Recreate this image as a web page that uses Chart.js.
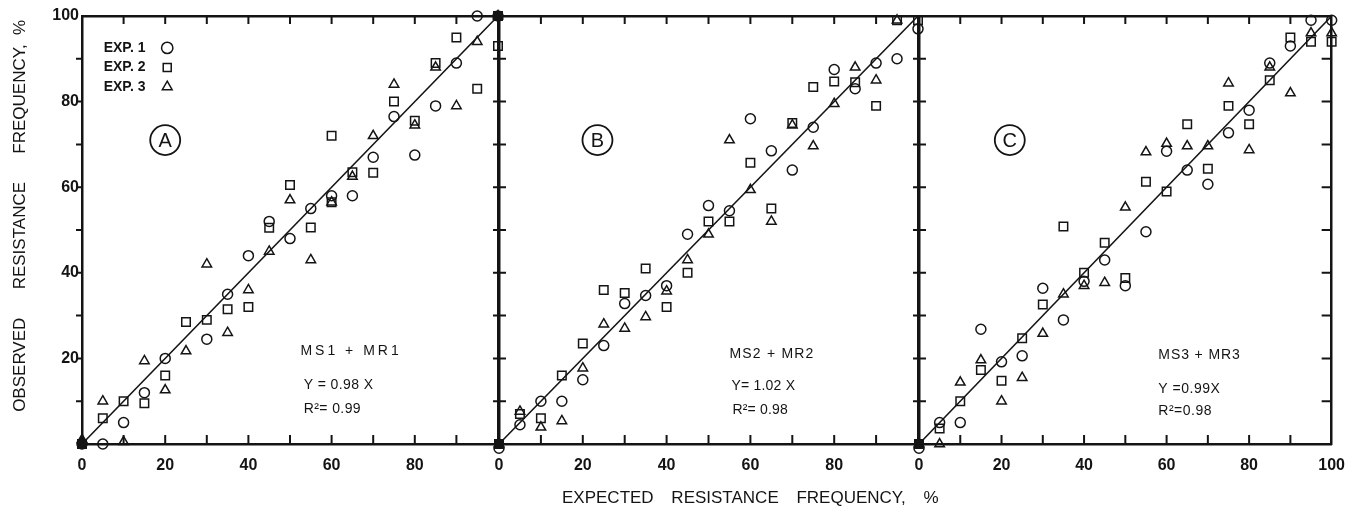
<!DOCTYPE html>
<html>
<head>
<meta charset="utf-8">
<title>Observed vs expected resistance frequency</title>
<script src="https://cdn.jsdelivr.net/npm/chart.js@4.4.0/dist/chart.umd.min.js"></script>
<style>
    html, body { margin: 0; padding: 0; background: #fff; }
    #wrap { position: relative; width: 1357px; height: 510px; overflow: hidden; }
    #wrap canvas { position: absolute; left: 0; top: 0; }
    #xtitle {
        position: absolute; left: 562px; top: 488px;
        font: 17px 'Liberation Sans', Arial, sans-serif;
        color: #141414; word-spacing: 13px; white-space: nowrap;
    }
</style>
</head>
<body>
<div id="wrap">
    <canvas id="panelA" width="1357" height="510"></canvas>
    <canvas id="panelB" width="1357" height="510"></canvas>
    <canvas id="panelC" width="1357" height="510"></canvas>
    <div id="xtitle">EXPECTED RESISTANCE FREQUENCY, %</div>
</div>
<script>
(function() {
    'use strict';

    var INK = '#141414';
    var FONT = "'Liberation Sans', Arial, sans-serif";

    // axis values
    var tickMarks = [10, 20, 30, 40, 50, 60, 70, 80, 90];
    var xLabelsAB = [0, 20, 40, 60, 80];
    var xLabelsC = [0, 20, 40, 60, 80, 100];
    var yLabels = [20, 40, 60, 80, 100];
    var seriesNames = ['EXP. 1', 'EXP. 2', 'EXP. 3'];
    var fitLine = [[0, 0], [100, 100]];

    // panel A : MS1 + MR1  [expected, observed]
    var exp1A = [[0, 0], [5, 0], [10, 5], [15, 12], [20, 20], [30, 24.5], [35, 35], [40, 44], [45, 52],
        [50, 48], [55, 55], [60, 58], [65, 58], [70, 67], [75, 76.5], [80, 67.5], [85, 79], [90, 89],
        [95, 100], [100, 100]];
    var exp2A = [[0, 0], [5, 6], [10, 10], [15, 9.5], [20, 16], [25, 28.5], [30, 29], [35, 31.5], [40, 32],
        [45, 50.5], [50, 60.5], [55, 50.6], [60, 56.5], [60, 72], [65, 63.5], [70, 63.4], [75, 80],
        [80, 75.5], [85, 89], [90, 95], [95, 83], [100, 93], [100, 100]];
    var exp3A = [[0, 1], [5, 10], [10, 0.5], [15, 19.4], [20, 12.6], [25, 21.7], [30, 42], [35, 26], [40, 36],
        [45, 45], [50, 57], [55, 43], [60, 56.5], [65, 62.5], [70, 72], [75, 84], [80, 74.5], [85, 88],
        [90, 79], [95, 94], [100, 100]];

    // panel B : MS2 + MR2
    var exp1B = [[0, -1], [5, 4.5], [10, 10], [15, 10], [20, 15], [25, 23], [30, 32.8], [35, 34.7], [40, 37],
        [45, 49], [50, 55.7], [55, 54.5], [60, 76], [65, 68.5], [70, 64], [75, 74], [80, 87.5], [85, 83],
        [90, 89], [95, 90], [100, 97]];
    var exp2B = [[0, 0], [5, 7], [10, 6], [15, 16], [20, 23.5], [25, 36], [30, 35.3], [35, 41], [40, 32],
        [45, 40], [50, 52], [55, 52], [60, 65.7], [65, 55], [70, 75], [75, 83.4], [80, 84.7], [85, 84.5],
        [90, 79], [95, 99], [100, 99]];
    var exp3B = [[0, 0], [5, 7.6], [10, 3.9], [15, 5.4], [20, 17.7], [25, 28], [30, 27], [35, 29.7], [40, 35.7],
        [45, 43], [50, 49], [55, 71], [60, 59.4], [65, 52], [70, 74.5], [75, 69.6], [80, 79.5], [85, 88],
        [90, 85], [95, 99]];

    // panel C : MS3 + MR3
    var exp1C = [[0, -1], [5, 5], [10, 5], [15, 26.8], [20, 19.2], [25, 20.6], [30, 36.4], [35, 29], [40, 38],
        [45, 43], [50, 37], [55, 49.6], [60, 68.4], [65, 64], [70, 60.7], [75, 72.7], [80, 78], [85, 89],
        [90, 93], [95, 99], [100, 99]];
    var exp2C = [[0, 0], [5, 3.6], [10, 10], [15, 17.3], [20, 14.8], [25, 24.7], [30, 32.6], [35, 50.8], [40, 40],
        [45, 47], [50, 38.8], [55, 61.3], [60, 59], [65, 74.7], [70, 64.3], [75, 79], [80, 74.7], [85, 85],
        [90, 95], [95, 94], [100, 94]];
    var exp3C = [[0, 0], [5, 0], [10, 14.4], [15, 19.6], [20, 10], [25, 15.5], [30, 25.8], [35, 35], [40, 37],
        [45, 37.7], [50, 55.3], [55, 68.2], [60, 70.2], [65, 69.6], [70, 69.6], [75, 84.3], [80, 68.7],
        [85, 88], [90, 82], [95, 96], [100, 96]];

    var markerStyles = [
        { pointStyle: 'circle', radius: 5 },
        { pointStyle: 'rect', radius: 6 },
        { pointStyle: 'triangle', radius: 5.5 }
    ];

    function toPoints(arr) {
        return arr.map(function(p) { return { x: p[0], y: p[1] }; });
    }

    // overlapping marks at the corners print as a solid blot
    function markerFill(ctx) {
        var r = ctx.raw;
        if (r && ((r.x === 0 && r.y >= 0) || (r.x === 100 && r.y === 100))) return INK;
        return 'rgba(0,0,0,0)';
    }

    // ticks, circled panel letter, regression text
    var panelDecor = {
        id: 'panelDecor',
        afterDatasetsDraw: function(chart, args, opts) {
            var ctx = chart.ctx;
            var xs = chart.scales.x, ys = chart.scales.y;
            var a = chart.chartArea;

            ctx.save();
            ctx.strokeStyle = INK;
            ctx.lineWidth = 2;
            ctx.beginPath();
            tickMarks.forEach(function(v) {
                var px = xs.getPixelForValue(v);
                var py = ys.getPixelForValue(v);
                ctx.moveTo(px, a.bottom); ctx.lineTo(px, a.bottom - 9);
                ctx.moveTo(px, a.top); ctx.lineTo(px, a.top + 8);
                if (opts.left === 'out') { ctx.moveTo(a.left, py); ctx.lineTo(a.left - 6, py); }
                if (opts.left === 'cross') { ctx.moveTo(a.left - 6, py); ctx.lineTo(a.left + 7, py); }
                if (opts.right === 'in') { ctx.moveTo(a.right, py); ctx.lineTo(a.right - 10, py); }
            });
            ctx.stroke();

            // circled letter
            var cx = xs.getPixelForValue(opts.letterAt[0]);
            var cy = ys.getPixelForValue(opts.letterAt[1]);
            ctx.lineWidth = 1.8;
            ctx.beginPath();
            ctx.arc(cx, cy, 15, 0, Math.PI * 2);
            ctx.stroke();
            ctx.fillStyle = INK;
            ctx.font = '20px ' + FONT;
            ctx.textAlign = 'center';
            ctx.textBaseline = 'middle';
            ctx.fillText(opts.letter, cx, cy + 1);

            // model + regression
            ctx.textAlign = 'left';
            ctx.font = '14px ' + FONT;
            opts.lines.forEach(function(ln) {
                ctx.letterSpacing = (ln.spacing || 0) + 'px';
                ctx.fillText(ln.text, xs.getPixelForValue(ln.at[0]), ys.getPixelForValue(ln.at[1]));
            });
            ctx.letterSpacing = '0px';
            ctx.restore();
        }
    };

    function makePanel(id, p) {
        var datasets = p.series.map(function(s, i) {
            return {
                label: seriesNames[i],
                data: toPoints(s),
                pointStyle: markerStyles[i].pointStyle,
                pointRadius: markerStyles[i].radius,
                pointBorderWidth: 1.5,
                pointBackgroundColor: markerFill,
                borderColor: INK,
                backgroundColor: 'rgba(0,0,0,0)',
                borderWidth: 1.5,
                clip: false
            };
        });
        datasets.push({
            label: 'fit',
            data: toPoints(fitLine),
            showLine: true,
            pointRadius: 0,
            borderColor: INK,
            borderWidth: 1.6,
            clip: false
        });

        var border = { display: true, width: 2.5, color: INK };
        var noGrid = { display: false, drawTicks: false };

        return new Chart(document.getElementById(id), {
            type: 'scatter',
            data: { datasets: datasets },
            plugins: [panelDecor],
            options: {
                responsive: false,
                animation: false,
                events: [],
                layout: { padding: 0 },
                scales: {
                    x: {
                        type: 'linear', position: 'bottom', min: 0, max: 100,
                        grid: noGrid, border: border,
                        ticks: {
                            stepSize: 20, autoSkip: false, maxRotation: 0, padding: 12,
                            color: INK, font: { family: FONT, size: 16, weight: 'bold' },
                            callback: function(v) { return p.xLabels.indexOf(v) !== -1 ? String(v) : ''; }
                        },
                        afterFit: function(s) { s.height = 510 - 444; }
                    },
                    xTop: {
                        type: 'linear', position: 'top', min: 0, max: 100,
                        grid: noGrid, border: border, ticks: { display: false },
                        afterFit: function(s) { s.height = 16; }
                    },
                    y: {
                        type: 'linear', position: 'left', min: 0, max: 100,
                        grid: noGrid, border: border,
                        ticks: {
                            display: p.showY, stepSize: 20, padding: 3,
                            color: INK, font: { family: FONT, size: 16, weight: 'bold' },
                            callback: function(v) { return yLabels.indexOf(v) !== -1 ? String(v) : ''; }
                        },
                        title: {
                            display: p.showY,
                            text: '      OBSERVED      RESISTANCE      FREQUENCY,  %',
                            color: INK, font: { family: FONT, size: 17 },
                            padding: { top: 10, bottom: 0 }
                        },
                        afterFit: function(s) { s.width = p.left; }
                    },
                    yRight: {
                        type: 'linear', position: 'right', min: 0, max: 100,
                        grid: noGrid, border: border, ticks: { display: false },
                        afterFit: function(s) { s.width = 1357 - p.right; }
                    }
                },
                plugins: {
                    tooltip: { enabled: false },
                    legend: p.legend ? {
                        display: true,
                        position: 'chartArea',
                        align: 'start',
                        rtl: true,
                        title: { display: true, text: ' ', padding: 10.5, font: { size: 12 } },
                        labels: {
                            usePointStyle: true, boxWidth: 14, boxHeight: 8, padding: 5.5,
                            color: INK, font: { family: FONT, size: 14, weight: 'bold' },
                            generateLabels: function(chart) {
                                var items = Chart.defaults.plugins.legend.labels.generateLabels(chart);
                                return items.slice(0, 3).map(function(it) {
                                    it.text = '   ' + it.text + '  ';
                                    it.fillStyle = 'rgba(0,0,0,0)';
                                    return it;
                                });
                            }
                        }
                    } : { display: false },
                    panelDecor: p.decor
                }
            }
        });
    }

    makePanel('panelA', {
        series: [exp1A, exp2A, exp3A], left: 82, right: 498,
        xLabels: xLabelsAB, showY: true, legend: true,
        decor: {
            left: 'out', right: 'none', letter: 'A', letterAt: [20, 71],
            lines: [
                { text: 'MS1 + MR1', at: [52.5, 21.6], spacing: 3 },
                { text: 'Y = 0.98 X', at: [53.3, 13.7], spacing: 0.4 },
                { text: 'R\u00b2= 0.99', at: [53.3, 8.1], spacing: 0.4 }
            ]
        }
    });

    makePanel('panelB', {
        series: [exp1B, exp2B, exp3B], left: 499, right: 918,
        xLabels: xLabelsAB, showY: false, legend: false,
        decor: {
            left: 'cross', right: 'none', letter: 'B', letterAt: [23.5, 71],
            lines: [
                { text: 'MS2 + MR2', at: [55, 20.9], spacing: 1.2 },
                { text: 'Y= 1.02 X', at: [55.5, 13.5], spacing: 0.2 },
                { text: 'R\u00b2= 0.98', at: [55.7, 7.9], spacing: 0.2 }
            ]
        }
    });

    makePanel('panelC', {
        series: [exp1C, exp2C, exp3C], left: 919, right: 1340,
        xLabels: xLabelsC, showY: false, legend: false,
        decor: {
            left: 'cross', right: 'in', letter: 'C', letterAt: [22, 71],
            lines: [
                { text: 'MS3 + MR3', at: [58, 20.7], spacing: 0.9 },
                { text: 'Y =0.99X', at: [58, 12.8], spacing: 0.5 },
                { text: 'R\u00b2=0.98', at: [58, 7.7], spacing: 0.5 }
            ]
        }
    });
})();
</script>
</body>
</html>
